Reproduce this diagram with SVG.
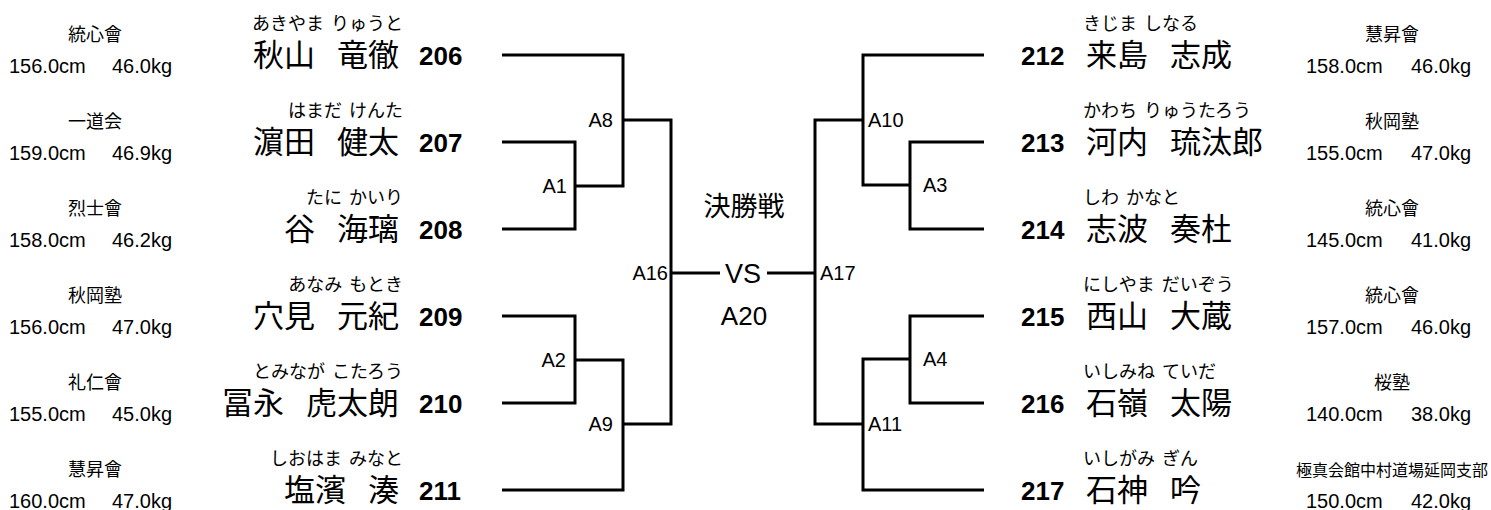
<svg xmlns="http://www.w3.org/2000/svg" width="1491" height="510" viewBox="0 0 1491 510">
<style>
.jp{font-family:"Noto Sans CJK JP",sans-serif;fill:#000}
.club{font-size:18px;text-anchor:middle}
.club2{font-size:16px;text-anchor:middle}
.ruby{font-size:18px;word-spacing:3px}
.name{font-size:31px;word-spacing:15px}
.lat{font-family:"Liberation Sans",Arial,sans-serif;fill:#000}
.num{font-size:26px;font-weight:bold}
.sz{font-size:20px}
.lbl{font-size:20px}
.end{text-anchor:end}
.mid{text-anchor:middle}
.ln{fill:none;stroke:#000;stroke-width:3;stroke-linejoin:miter;stroke-linecap:butt}
</style>
<rect width="1491" height="510" fill="#fff"/>
<g id="connectors" class="ln">
<path d="M502,55H623V186H575"/>
<path d="M502,142H575V229H502"/>
<path d="M623,120H671V424H623"/>
<path d="M502,316H575V403H502"/>
<path d="M575,360H623V490H502"/>
<path d="M671,273H720"/>
<path d="M767,273H815"/>
<path d="M863,120H815V424H863"/>
<path d="M984,55H863V185H910"/>
<path d="M984,142H910V229H984"/>
<path d="M984,316H910V403H984"/>
<path d="M910,359H863V490H984"/>
</g>
<g id="p206">
<text class="jp club" x="95" y="41">統心會</text>
<text class="lat sz" x="9" y="73">156.0cm <tspan x="112">46.0kg</tspan></text>
<text class="jp ruby end" x="403" y="30">あきやま りゅうと</text>
<text class="jp name end" x="399" y="66">秋山 竜徹</text>
<text class="lat num" x="419" y="65">206</text>
</g>
<g id="p207">
<text class="jp club" x="95" y="128">一道会</text>
<text class="lat sz" x="9" y="160">159.0cm <tspan x="112">46.9kg</tspan></text>
<text class="jp ruby end" x="403" y="117">はまだ けんた</text>
<text class="jp name end" x="399" y="153">濵田 健太</text>
<text class="lat num" x="419" y="152">207</text>
</g>
<g id="p208">
<text class="jp club" x="95" y="215">烈士會</text>
<text class="lat sz" x="9" y="247">158.0cm <tspan x="112">46.2kg</tspan></text>
<text class="jp ruby end" x="403" y="204">たに かいり</text>
<text class="jp name end" x="399" y="240">谷 海璃</text>
<text class="lat num" x="419" y="239">208</text>
</g>
<g id="p209">
<text class="jp club" x="95" y="302">秋岡塾</text>
<text class="lat sz" x="9" y="334">156.0cm <tspan x="112">47.0kg</tspan></text>
<text class="jp ruby end" x="403" y="291">あなみ もとき</text>
<text class="jp name end" x="399" y="327">穴見 元紀</text>
<text class="lat num" x="419" y="326">209</text>
</g>
<g id="p210">
<text class="jp club" x="95" y="389">礼仁會</text>
<text class="lat sz" x="9" y="421">155.0cm <tspan x="112">45.0kg</tspan></text>
<text class="jp ruby end" x="403" y="378">とみなが こたろう</text>
<text class="jp name end" x="399" y="414">冨永 虎太朗</text>
<text class="lat num" x="419" y="413">210</text>
</g>
<g id="p211">
<text class="jp club" x="95" y="476">慧昇會</text>
<text class="lat sz" x="9" y="508">160.0cm <tspan x="112">47.0kg</tspan></text>
<text class="jp ruby end" x="403" y="465">しおはま みなと</text>
<text class="jp name end" x="399" y="501">塩濱 湊</text>
<text class="lat num" x="419" y="500">211</text>
</g>
<g id="p212">
<text class="jp club" x="1392" y="41">慧昇會</text>
<text class="lat sz" x="1306" y="73">158.0cm <tspan x="1411">46.0kg</tspan></text>
<text class="jp ruby" x="1083" y="30">きじま しなる</text>
<text class="jp name" x="1086" y="66">来島 志成</text>
<text class="lat num" x="1021" y="65">212</text>
</g>
<g id="p213">
<text class="jp club" x="1392" y="128">秋岡塾</text>
<text class="lat sz" x="1306" y="160">155.0cm <tspan x="1411">47.0kg</tspan></text>
<text class="jp ruby" x="1083" y="117">かわち りゅうたろう</text>
<text class="jp name" x="1086" y="153">河内 琉汰郎</text>
<text class="lat num" x="1021" y="152">213</text>
</g>
<g id="p214">
<text class="jp club" x="1392" y="215">統心會</text>
<text class="lat sz" x="1306" y="247">145.0cm <tspan x="1411">41.0kg</tspan></text>
<text class="jp ruby" x="1083" y="204">しわ かなと</text>
<text class="jp name" x="1086" y="240">志波 奏杜</text>
<text class="lat num" x="1021" y="239">214</text>
</g>
<g id="p215">
<text class="jp club" x="1392" y="302">統心會</text>
<text class="lat sz" x="1306" y="334">157.0cm <tspan x="1411">46.0kg</tspan></text>
<text class="jp ruby" x="1083" y="291">にしやま だいぞう</text>
<text class="jp name" x="1086" y="327">西山 大蔵</text>
<text class="lat num" x="1021" y="326">215</text>
</g>
<g id="p216">
<text class="jp club" x="1392" y="389">桜塾</text>
<text class="lat sz" x="1306" y="421">140.0cm <tspan x="1411">38.0kg</tspan></text>
<text class="jp ruby" x="1083" y="378">いしみね ていだ</text>
<text class="jp name" x="1086" y="414">石嶺 太陽</text>
<text class="lat num" x="1021" y="413">216</text>
</g>
<g id="p217">
<text class="jp club2" x="1392" y="476">極真会館中村道場延岡支部</text>
<text class="lat sz" x="1306" y="508">150.0cm <tspan x="1411">42.0kg</tspan></text>
<text class="jp ruby" x="1083" y="465">いしがみ ぎん</text>
<text class="jp name" x="1086" y="501">石神 吟</text>
<text class="lat num" x="1021" y="500">217</text>
</g>
<g id="matches" class="lat lbl">
<text class="end" x="613" y="127">A8</text>
<text class="end" x="567" y="193">A1</text>
<text class="end" x="668" y="280">A16</text>
<text class="end" x="566" y="367">A2</text>
<text class="end" x="613" y="431">A9</text>
<text x="820" y="280">A17</text>
<text x="868" y="127">A10</text>
<text x="923" y="192">A3</text>
<text x="923" y="366">A4</text>
<text x="868" y="431">A11</text>
</g>
<g id="final">
<text class="jp mid" x="744" y="216" font-size="27">決勝戦</text>
<text class="lat mid" x="743" y="283" font-size="27">VS</text>
<text class="lat mid" x="744" y="325" font-size="26">A20</text>
</g>
</svg>
